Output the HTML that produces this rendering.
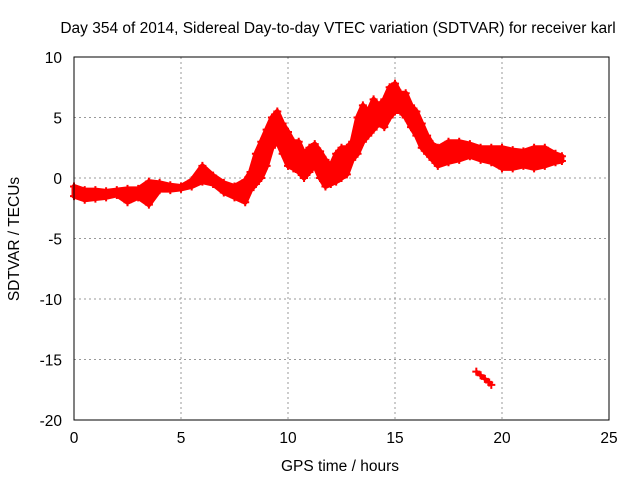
<!DOCTYPE html>
<html><head><meta charset="utf-8"><style>
body{margin:0;background:#fff}
svg{display:block;font-family:"Liberation Sans",sans-serif;font-size:15.5px}
</style></head><body>
<svg id="c" width="640" height="480">
<text x="338" y="33" text-anchor="middle">Day 354 of 2014, Sidereal Day-to-day VTEC variation (SDTVAR) for receiver karl</text>
<text x="340" y="471" text-anchor="middle">GPS time / hours</text>
<text transform="translate(19,239) rotate(-90)" text-anchor="middle">SDTVAR / TECUs</text>
<g id="grid"></g><g id="ticks"></g><g id="data"></g>
<rect x="74" y="57" width="535" height="363" fill="none" stroke="#000"/>
</svg>
<script>
const times=[0,0.5,1,1.5,2,2.5,3,3.5,4,4.5,5,5.5,6,6.5,7,7.5,8,8.25,8.5,8.75,9,9.25,9.5,9.75,10,10.25,10.5,10.75,11,11.25,11.5,11.75,12,12.25,12.5,12.75,13,13.25,13.5,13.75,14,14.25,14.5,14.75,15,15.25,15.5,15.75,16,16.25,16.5,16.75,17,17.5,18,18.5,19,19.5,20,20.5,21,21.5,22,22.5,22.8];
const upper=[-0.7,-1,-1,-1.1,-1,-0.9,-0.9,-0.3,-0.4,-0.6,-0.7,-0.2,1,0.2,-0.4,-0.7,-0.2,0.5,2,3,4,5,5.5,4.5,3.8,3,3,2,2.5,2.8,2.2,1.5,1,2,2.5,2.5,3,5,6,5.5,6.5,6,6.5,7.5,7.8,7,7,6,5.5,4.5,3.5,2.8,2.5,3,3,2.8,2.5,2.5,2.5,2.3,2.2,2.5,2.5,2,1.8];
const lower=[-1.5,-1.8,-1.7,-1.6,-1.4,-2,-1.6,-2.2,-1,-1,-0.9,-0.7,-0.3,-0.5,-1.2,-1.6,-2,-1,-0.5,0,1,2.5,3,2,1,0.8,0.5,0,0.5,1,0,-0.7,-0.5,-0.3,0,0.3,1.5,2,3,3.5,4,4.5,4.2,5,5.5,5.5,5,4.2,3.5,2.5,2,1.5,1,1.3,1.5,1.8,1.5,1.3,0.8,0.8,1,0.8,1,1.3,1.4];
const outT=[18.8,19,19.2,19.4,19.5];
const outV=[-16,-16.3,-16.6,-16.9,-17.1];
const xTicks=[0,5,10,15,20,25];
const yTicks=[10,5,0,-5,-10,-15,-20];
const X=t=>74+t*535/25, Y=v=>178-v*363/30;
const NS='http://www.w3.org/2000/svg';
function mk(tag,attrs,parent){const e=document.createElementNS(NS,tag);for(const k in attrs)e.setAttribute(k,attrs[k]);document.getElementById(parent).appendChild(e);return e;}
xTicks.forEach(t=>{
 if(t>0&&t<25){const g=mk('line',{x1:X(t),x2:X(t),y1:57,y2:420,stroke:'#999','stroke-dasharray':'2,3'},'grid');
 
 }
 const l=mk('text',{x:X(t),y:443,'text-anchor':'middle'},'ticks');l.textContent=t;
 
 
});
yTicks.forEach(v=>{
 if(v>-20&&v<10){const g=mk('line',{x1:74,x2:609,y1:Y(v),y2:Y(v),stroke:'#999','stroke-dasharray':'2,3'},'grid');
 
 }
 const l=mk('text',{x:62,y:Y(v)+6,'text-anchor':'end'},'ticks');l.textContent=v;
 
 
});
let pts=times.map((t,i)=>X(t)+','+Y(upper[i]));
for(let i=times.length-1;i>=0;i--)pts.push(X(times[i])+','+Y(lower[i]));
const band=mk('polygon',{points:pts.join(' '),fill:'#f00',stroke:'#f00','stroke-width':5,'stroke-linejoin':'round'},'data');


function plus(x,y,name){const p=mk('path',{d:`M${x-4},${y}h8M${x},${y-4}v8`,stroke:'#f00','stroke-width':2},'data');
 
 }
times.forEach((t,i)=>{plus(X(t),Y(upper[i]),'point-upper');plus(X(t),Y(lower[i]),'point-lower');});
const ol=mk('polyline',{points:outT.map((t,i)=>X(t)+','+Y(outV[i])).join(' '),fill:'none',stroke:'#f00','stroke-width':4},'data');


outT.forEach((t,i)=>plus(X(t),Y(outV[i]),'point-outlier'));
</script>
</body></html>
